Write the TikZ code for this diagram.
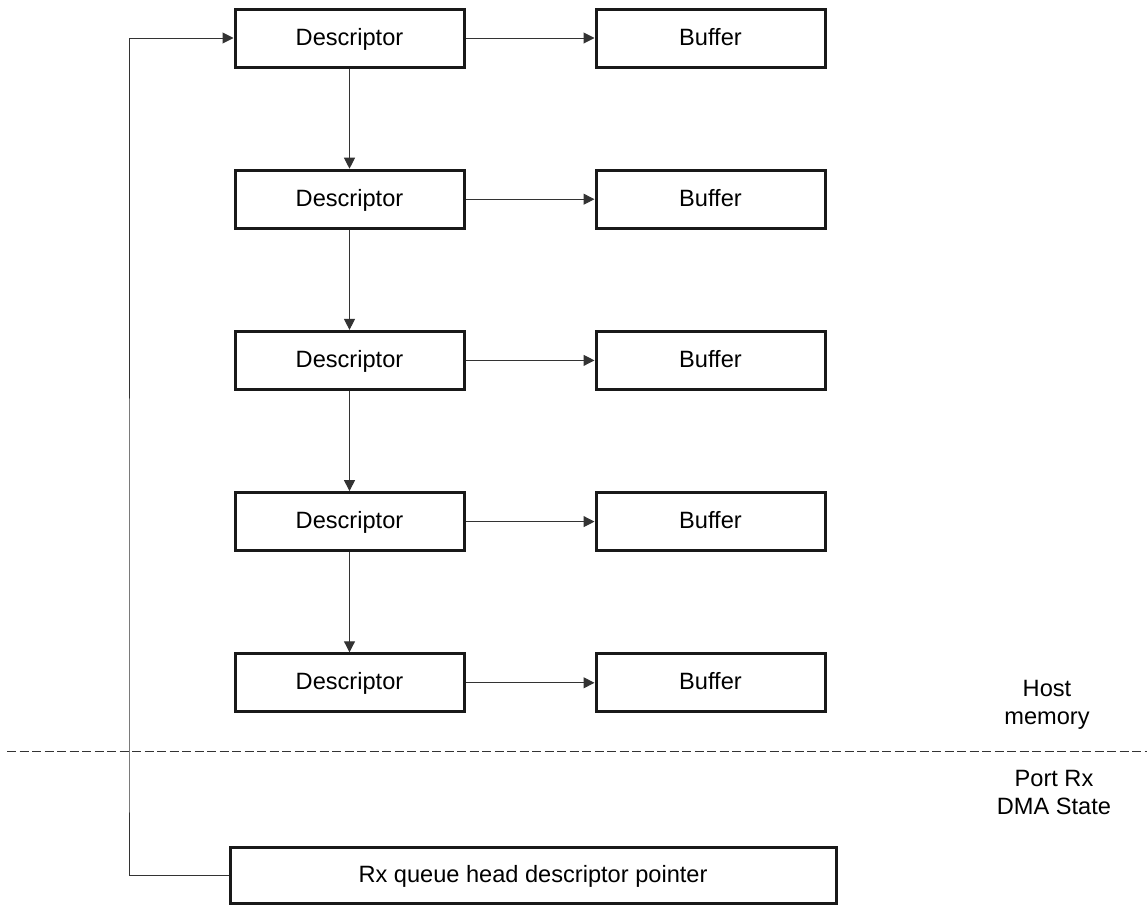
\documentclass[tikz,border=0pt]{standalone}
\usepackage{fontspec}
\setmainfont{Liberation Sans}
\usetikzlibrary{arrows.meta,positioning}

\tikzset{
	memblock/.style = {draw = black!90, line width = 1.5pt, minimum width = 114.5pt, minimum height = 29pt, inner sep = 0pt, text height = 0.9em, text depth = 0.184em, font = \fontsize{11.8}{14}\selectfont},
	link/.style = {black!80, line width = 0.5pt, -{Triangle[length = 5.5pt, width = 5.5pt]}},
	sidelabel/.style = {align = center, font = \fontsize{11.8}{14}\selectfont},
}

\begin{document}
\begin{tikzpicture}[x = 0.5pt, y = -0.5pt, node distance = 50.1pt and 64.5pt]

	\useasboundingbox (0,0) rectangle (1147,905);

	% descriptor ring in host memory
	\node[memblock] (desc0) at (349.5,38) {Descriptor};
	\foreach \i in {1,...,4}
	{
		\pgfmathtruncatemacro{\prev}{\i - 1}
		\node[memblock, below =of desc\prev] (desc\i) {Descriptor};
	}
	\foreach \i in {0,...,4}
	{
		\node[memblock, right =of desc\i] (buf\i) {Buffer};
		\draw[link] (desc\i) -- (buf\i);
	}
	\foreach \i in {0,...,3}
	{
		\pgfmathtruncatemacro{\next}{\i + 1}
		\draw[link] (desc\i) -- (desc\next);
	}

	% port state
	\node[memblock, minimum width = 303pt, minimum height = 28pt] (headptr) at (533,875) {Rx queue head descriptor pointer};
	\coordinate (turn) at (129,751);
	\draw[link] (headptr.west) -| (turn) |- (desc0.west);

	% boundary
	\coordinate (sepL) at (7,751);
	\coordinate (sepR) at (1147,751);
	\draw[black!80, line width = 0.5pt, dash pattern = on 4.5pt off 1.75pt] (sepL) -- (sepR);
	\node[sidelabel] (hostmem) at (1047,705) {Host\\memory};
	\node[sidelabel] (portstate) at (1054,792) {Port Rx\\DMA State};

\end{tikzpicture}
\end{document}
